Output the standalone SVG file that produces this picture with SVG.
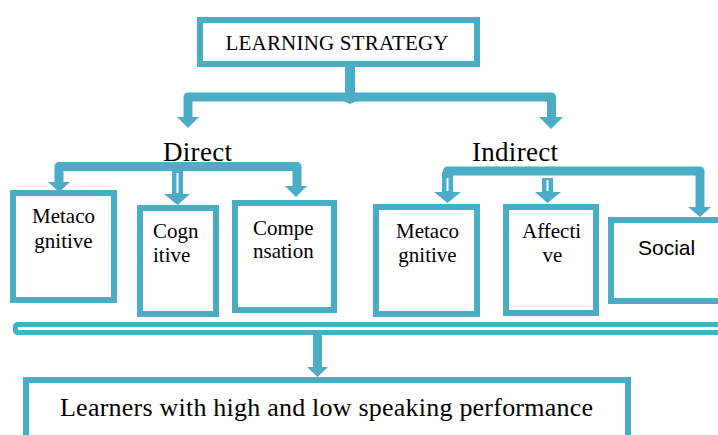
<svg xmlns="http://www.w3.org/2000/svg" width="718" height="435" viewBox="0 0 718 435">
<style>
.box{fill:#fff;stroke:#4BACC6;stroke-width:6}
.t{font-family:'Liberation Serif','Times New Roman',Tinos,'DejaVu Serif',serif;fill:#000}
.s{font-family:'Liberation Sans',Arial,sans-serif;fill:#000}
.ln{fill:none;stroke:#4BACC6;stroke-width:9;stroke-linejoin:round}
.ah{fill:#4BACC6}
.wl{stroke:#fff;stroke-width:2}
</style>
<rect width="718" height="435" fill="#fff"/>
<g id="connectors">
  <rect class="ah" x="345" y="67" width="10" height="30"/>
  <polygon class="ah" points="341,100 359,100 350,104"/>
  <polyline class="ln" points="188,118 188,97 551.5,97 551.5,118"/>
  <polygon class="ah" points="177,117 199,117 188,128"/>
  <polygon class="ah" points="539,117 563,117 551,129"/>
  <polyline class="ln" points="59,183 59,166.5 297,166.5 297,187"/>
  <polygon class="ah" points="48,182 70,182 59,192"/>
  <polygon class="ah" points="285,186 307,186 296,197"/>
  <polygon class="ah" points="172,170 183,170 183,194 190,194 177.5,205 164,194 172,194"/>
  <line class="wl" x1="177.5" y1="173" x2="177.5" y2="193"/>
  <polyline class="ln" points="447.5,185 447.5,171 700,171 700,208"/>
  <polygon class="ah" points="688,207 711,207 700,217"/>
  <polygon class="ah" points="442,172 453,172 453,192 461,192 447.5,203 434,192 442,192"/>
  <line class="wl" x1="447.5" y1="178" x2="447.5" y2="191"/>
  <polygon class="ah" points="542,178 553,178 553,192 561,192 547.5,203 535,192 542,192"/>
  <line class="wl" x1="547.5" y1="180" x2="547.5" y2="191"/>
  <rect x="15.5" y="324.5" width="720" height="8" rx="2" fill="#fff" stroke="#4BACC6" stroke-width="5"/>
  <rect class="ah" x="313" y="335" width="9" height="33"/>
  <polygon class="ah" points="307,367 328,367 317.5,377"/>
</g>
<g id="learning-strategy">
  <rect class="box" x="200" y="20" width="277" height="44"/>
  <text class="t" font-family="Liberation Serif, serif" x="337" y="50" font-size="21" text-anchor="middle" textLength="223">LEARNING STRATEGY</text>
</g>
<g id="direct-label"><text class="t" x="163" y="161" font-size="27" textLength="69">Direct</text></g>
<g id="indirect-label"><text class="t" x="472" y="161" font-size="27" textLength="86">Indirect</text></g>
<g id="metacognitive-direct">
  <rect class="box" x="13" y="193" width="101" height="107"/>
  <text class="t" x="63.5" y="223" font-size="21" text-anchor="middle">Metaco</text>
  <text class="t" x="63.5" y="248" font-size="21" text-anchor="middle">gnitive</text>
</g>
<g id="cognitive">
  <rect class="box" x="140" y="208" width="76" height="106"/>
  <text class="t" x="153" y="238" font-size="21">Cogn</text>
  <text class="t" x="153" y="262" font-size="21">itive</text>
</g>
<g id="compensation">
  <rect class="box" x="235" y="203" width="99" height="107"/>
  <text class="t" x="253" y="235" font-size="21">Compe</text>
  <text class="t" x="253" y="258" font-size="21">nsation</text>
</g>
<g id="metacognitive-indirect">
  <rect class="box" x="376" y="207" width="101" height="107"/>
  <text class="t" x="427.5" y="238" font-size="21" text-anchor="middle">Metaco</text>
  <text class="t" x="427.5" y="262" font-size="21" text-anchor="middle">gnitive</text>
</g>
<g id="affective">
  <rect class="box" x="506" y="207" width="90" height="106"/>
  <text class="t" x="522" y="238" font-size="21">Affecti</text>
  <text class="t" x="552.5" y="262" font-size="21" text-anchor="middle">ve</text>
</g>
<g id="social">
  <rect class="box" x="611" y="220" width="120" height="81"/>
  <text class="s" x="638" y="255" font-size="21">Social</text>
</g>
<g id="learners">
  <rect class="box" x="26" y="380" width="602" height="80"/>
  <text class="t" x="60" y="416" font-size="26" textLength="533">Learners with high and low speaking performance</text>
</g>
</svg>
